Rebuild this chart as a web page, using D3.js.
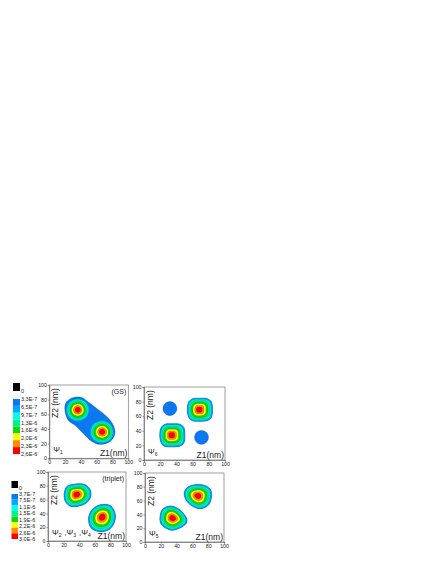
<!DOCTYPE html>
<html lang="en">
<head>
<meta charset="UTF-8">
<title>Probability density</title>
<script src="https://cdn.jsdelivr.net/npm/d3@7"></script>
<style>
  html, body { margin: 0; padding: 0; background: #fff; }
  text { font-family: "Liberation Sans", Arial, sans-serif; fill: #222; }
</style>
</head>
<body>
<script>
const levelColors = ['#0a78f0', '#00a8ff', '#00ffe6', '#00f08c', '#10d810', '#ffff00', '#ff8c00', '#ff0000'];
const ticks = [0, 20, 40, 60, 80, 100];
const legendLabelsGS = ['3,3E-7', '6,5E-7', '9,7E-7', '1,3E-6', '1,6E-6', '2,0E-6', '2,3E-6', '2,6E-6'];
const legendLabelsTriplet = ['3,7E-7', '7,5E-7', '1,1E-6', '1,5E-6', '1,9E-6', '2,2E-6', '2,6E-6', '3,0E-6'];

// contour outlines, [Z1, Z2] in nm
const gsOuter = [[20.7, 75], [28, 82], [41, 83], [50, 76], [60, 68], [72.6, 57], [81, 45], [83, 34], [77, 23], [64, 19], [54, 23], [43, 34], [32.5, 45], [24, 52], [20, 64]];
const gsLeft = [[21, 66], [25, 77], [36, 82], [47, 77], [51, 66], [47, 55], [36, 50], [25, 55]];
const gsRight = [[51, 36], [55, 47], [67, 52], [78, 47], [82, 36], [78, 25], [67, 20], [55, 25]];
const gsCenters = [[36, 66], [67, 36]];

const exTopRight = [[53.5, 69], [55, 79], [60, 84], [68, 84.5], [78, 84], [83, 80], [84.5, 69], [83, 58], [78, 54], [68, 53], [59, 54], [55, 59]];
const exBottomLeft = [[19.5, 34], [21, 44], [26, 49], [34, 49.5], [44, 49], [49, 45], [50.5, 34], [49, 23], [44, 19], [34, 18], [25, 19], [21, 24]];
const exCircleA = [[23.4, 70.5], [25.9, 77.2], [32, 80], [38.1, 77.2], [40.6, 70.5], [38.1, 63.8], [32, 61], [25.9, 63.8]];
const exCircleB = [[62.4, 31], [64.9, 37.7], [71, 40.5], [77.1, 37.7], [79.6, 31], [77.1, 24.3], [71, 21.5], [64.9, 24.3]];
const exCenters = [[68, 69], [34, 34]];

const trLeft = [[20.9, 69.4], [24.3, 79], [34.9, 82.5], [47.7, 81.6], [54, 74.3], [54.9, 64.6], [49, 55], [39, 50.5], [28.5, 50.5], [22, 57.8]];
const trRight = [[52, 33], [56.2, 45], [66.8, 52.4], [79.6, 51.5], [86, 40.3], [84.7, 25.7], [77.4, 16], [64.7, 13.6], [54.9, 19.4]];
const trCenters = [[36.6, 67.5], [69.4, 35]];

const psi5Top = [[49.6, 71], [53.4, 79], [63, 83], [75.6, 82], [83, 75.8], [84, 63.8], [79.8, 53], [69.3, 48.3], [58.8, 53], [51.7, 61.4]];
const psi5Bottom = [[18.9, 34.8], [21.8, 46.9], [31.5, 52.2], [42, 48.3], [52.5, 34.8], [52.5, 27.5], [44, 20.3], [33.6, 17], [23, 22.7], [19.7, 27.5]];
const psi5Centers = [[66.8, 66.7], [34.9, 34.8]];

// how far each colour band reaches, as a share of the outline around the peak
const bandShare = [1, 0.9, 0.8, 0.66, 0.52, 0.37, 0.24];
const bandColorIndex = [1, 2, 3, 4, 5, 6, 7];

const panels = [
  { box: [49.3, 385, 79, 73.3], outer: [gsOuter], blobs: [gsLeft, gsRight], centers: gsCenters, tag: '(GS)', psi: ['1'], start: 0 },
  { box: [144, 387, 81, 73], outer: [exCircleA, exCircleB, exTopRight, exBottomLeft], blobs: [exTopRight, exBottomLeft], centers: exCenters, tag: '', psi: ['6'], start: 1 },
  { box: [48, 472, 78, 69], outer: [trLeft, trRight], blobs: [trLeft, trRight], centers: trCenters, tag: '(triplet)', psi: ['2', '3', '4'], start: 1 },
  { box: [145, 473, 79, 69], outer: [psi5Top, psi5Bottom], blobs: [psi5Top, psi5Bottom], centers: psi5Centers, tag: '', psi: ['5'], start: 1 }
];

const svg = d3.select('body').append('svg').attr('width', 436).attr('height', 564);

function drawPanel(p) {
  const [left, top, w, h] = p.box;
  const x = d3.scaleLinear().domain([0, 100]).range([left, left + w]);
  const y = d3.scaleLinear().domain([0, 100]).range([top + h, top]);
  const ring = d3.line().x(d => x(d[0])).y(d => y(d[1])).curve(d3.curveCatmullRomClosed);
  const g = svg.append('g');

  g.selectAll('.outer').data(p.outer).enter().append('path')
    .attr('d', ring).attr('fill', levelColors[0])
    .attr('stroke', '#0a4aa0').attr('stroke-width', 0.4);

  p.blobs.forEach((outline, i) => {
    const c = p.centers[i];
    bandShare.forEach((s, k) => {
      const pts = outline.map(q => [c[0] + (q[0] - c[0]) * s, c[1] + (q[1] - c[1]) * s]);
      g.append('path').attr('d', ring(pts))
        .attr('fill', levelColors[bandColorIndex[k]])
        .attr('stroke', '#0b3a50').attr('stroke-width', 0.3).attr('stroke-opacity', 0.6);
    });
  });

  g.append('rect').attr('x', left).attr('y', top).attr('width', w).attr('height', h)
    .attr('fill', 'none').attr('stroke', '#777').attr('stroke-width', 0.7);

  const xAxis = g.append('g').attr('transform', `translate(0,${top + h})`)
    .call(d3.axisBottom(x).tickValues(ticks).tickSize(1.5).tickPadding(1));
  const yAxis = g.append('g').attr('transform', `translate(${left},0)`)
    .call(d3.axisLeft(y).tickValues(ticks).tickSize(1.5).tickPadding(1));
  [xAxis, yAxis].forEach(a => {
    a.selectAll('text').style('font-size', '5.2px');
    a.selectAll('path, line').attr('stroke', '#555').attr('stroke-width', 0.6);
  });

  g.append('text').attr('x', left + w - 1).attr('y', top + h - 2.5)
    .attr('text-anchor', 'end').style('font-size', '8.5px').text('Z1(nm)');
  g.append('text').attr('transform', `translate(${left + 9},${top + 33}) rotate(-90)`)
    .style('font-size', '8.5px').text('Z2 (nm)');
  if (p.tag) {
    g.append('text').attr('x', left + w - 2).attr('y', top + 9)
      .attr('text-anchor', 'end').style('font-size', '7px').text(p.tag);
  }

  const psi = g.append('text').attr('x', left + 4).attr('y', top + h - 6).style('font-size', '8px');
  p.psi.forEach((n, i) => {
    psi.append('tspan').text((i ? ' ,' : '') + 'Ψ');
    psi.append('tspan').attr('dy', 2).style('font-size', '5px').text(n);
    psi.append('tspan').attr('dy', -2).text('\u200a');
  });
}

function drawLegend(labels, lx, blackTop, blackH, top, bottom, sw) {
  const band = d3.scaleBand().domain(levelColors).range([top, bottom]).paddingInner(0);
  const point = d3.scalePoint().domain(labels).range([top, bottom]);
  const g = svg.append('g');
  g.append('rect').attr('x', lx).attr('y', blackTop).attr('width', sw).attr('height', blackH).attr('fill', '#000');
  g.append('text').attr('x', lx + sw + 1).attr('y', blackTop + blackH + 2)
    .style('font-size', '5.5px').text('0');
  g.selectAll('.sw').data(levelColors).enter().append('rect')
    .attr('x', lx).attr('y', d => band(d)).attr('width', sw).attr('height', band.bandwidth())
    .attr('fill', d => d);
  g.selectAll('.lab').data(labels).enter().append('text')
    .attr('x', lx + sw + 1).attr('y', d => point(d) + 2)
    .style('font-size', '5.5px').text(d => d);
}

panels.forEach(drawPanel);
drawLegend(legendLabelsGS, 13, 383, 8, 399, 454, 7);
drawLegend(legendLabelsTriplet, 11.5, 481, 7, 494, 539, 6.5);
</script>
</body>
</html>
